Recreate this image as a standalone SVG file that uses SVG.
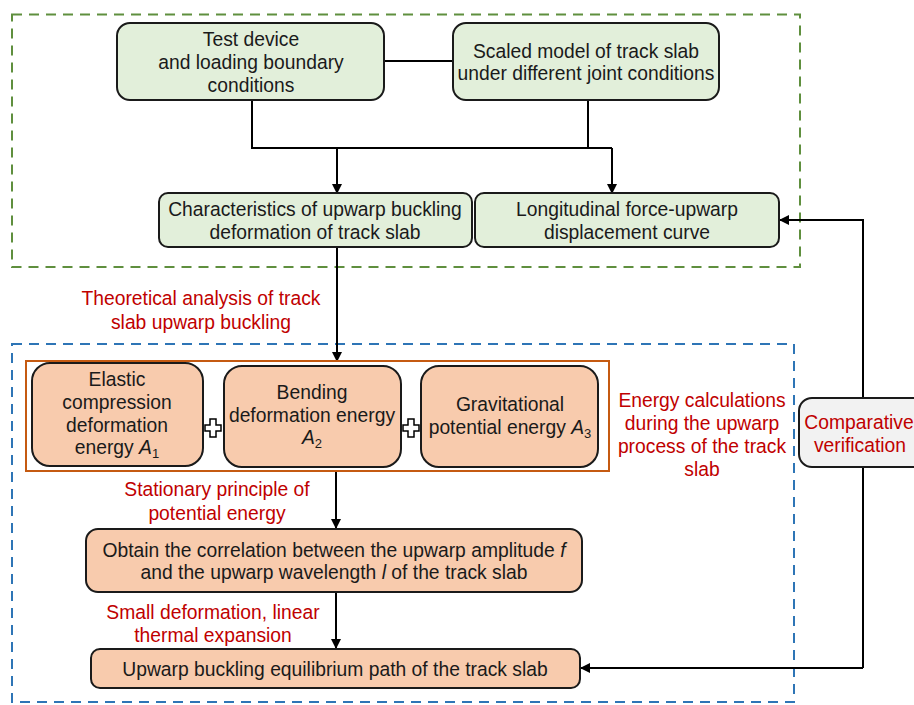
<svg xmlns="http://www.w3.org/2000/svg" width="914" height="705" viewBox="0 0 914 705">
<style>
text{font-family:"Liberation Sans",Arial,sans-serif;font-size:19.3px;fill:#1a1a1a;text-anchor:middle}
.red{fill:#c00000}
.g{fill:#e2efda;stroke:#1a1a1a;stroke-width:2}
.o{fill:#f8cbad;stroke:#1a1a1a;stroke-width:2}
.c{fill:none;stroke:#000;stroke-width:2}
.i{font-style:italic}
.s{font-size:13px}
.plus{fill:#fff;stroke:#000;stroke-width:1.5}
</style>
<defs>
<marker id="ah" markerWidth="10" markerHeight="10" refX="9" refY="5" orient="auto" markerUnits="userSpaceOnUse">
<path d="M0,0 L10,5 L0,10 z" fill="#000"/>
</marker>
</defs>
<rect x="12" y="14.5" width="788" height="252.5" fill="none" stroke="#5f8f3e" stroke-width="2" stroke-dasharray="10,7"/>
<rect x="12" y="344" width="782" height="358" fill="none" stroke="#2e75b6" stroke-width="2" stroke-dasharray="10,7"/>
<g id="connectors">
<line class="c" x1="384" y1="61" x2="453" y2="61"/>
<polyline class="c" points="252,100 252,148 612,148"/>
<line class="c" x1="588" y1="100" x2="588" y2="148"/>
<line class="c" x1="337" y1="148" x2="337" y2="193" marker-end="url(#ah)"/>
<line class="c" x1="612" y1="148" x2="612" y2="193" marker-end="url(#ah)"/>
<line class="c" x1="337" y1="247" x2="337" y2="361" marker-end="url(#ah)"/>
<line class="c" x1="336" y1="471" x2="336" y2="528" marker-end="url(#ah)"/>
<line class="c" x1="336" y1="592" x2="336" y2="648" marker-end="url(#ah)"/>
<polyline class="c" points="863,668 863,220 780,220" marker-end="url(#ah)"/>
<line class="c" x1="863" y1="668" x2="581" y2="668" marker-end="url(#ah)"/>
</g>
<g id="n1"><rect class="g" x="117" y="23" width="267" height="77" rx="13"/>
<text x="251" y="46">Test device</text><text x="251" y="69">and loading boundary</text><text x="251" y="92">conditions</text></g>
<g id="n2"><rect class="g" x="453" y="23" width="266" height="77" rx="13"/>
<text x="586" y="58">Scaled model of track slab</text><text x="586" y="80">under different joint conditions</text></g>
<g id="n3"><rect class="g" x="159" y="193" width="313" height="54" rx="9"/>
<text x="315" y="216">Characteristics of upwarp buckling</text><text x="315" y="239">deformation of track slab</text></g>
<g id="n4"><rect class="g" x="475" y="193" width="304" height="54" rx="9"/>
<text x="627" y="216">Longitudinal force-upwarp</text><text x="627" y="239">displacement curve</text></g>
<g id="lbl1"><text class="red" x="201" y="305">Theoretical analysis of track</text><text class="red" x="201" y="329">slab upwarp buckling</text></g>
<g id="energy">
<rect x="26" y="361" width="583" height="110" fill="#fff" stroke="#c55a11" stroke-width="2"/>
<g id="a1"><rect class="o" x="32" y="363" width="171" height="103" rx="18"/>
<text x="117" y="386">Elastic</text><text x="117" y="409">compression</text><text x="117" y="432">deformation</text>
<text x="117" y="454">energy <tspan class="i">A</tspan><tspan class="s" dy="4">1</tspan></text></g>
<g id="a2"><rect class="o" x="224" y="366" width="177" height="101" rx="18"/>
<text x="312" y="399">Bending</text><text x="312" y="422">deformation energy</text>
<text x="312" y="444"><tspan class="i">A</tspan><tspan class="s" dy="4">2</tspan></text></g>
<g id="a3"><rect class="o" x="421" y="366" width="177" height="101" rx="18"/>
<text x="510" y="411">Gravitational</text>
<text x="510" y="434">potential energy <tspan class="i">A</tspan><tspan class="s" dy="4">3</tspan></text></g>
<polygon class="plus" points="210,419 216,419 216,425 221,425 221,431 216,431 216,437 210,437 210,431 205,431 205,425 210,425"/>
<polygon class="plus" points="408,419 414,419 414,425 419,425 419,431 414,431 414,437 408,437 408,431 403,431 403,425 408,425"/>
</g>
<g id="lbl2"><text class="red" x="702" y="407">Energy calculations</text><text class="red" x="702" y="430">during the upwarp</text><text class="red" x="702" y="453">process of the track</text><text class="red" x="702" y="476">slab</text></g>
<g id="cmp"><rect x="799" y="398" width="130" height="69" rx="13" fill="#f2f2f2" stroke="#1a1a1a" stroke-width="2"/>
<text class="red" x="859" y="429">Comparative</text><text class="red" x="860" y="452">verification</text></g>
<g id="lbl3"><text class="red" x="217" y="496">Stationary principle of</text><text class="red" x="217" y="520">potential energy</text></g>
<g id="n5"><rect class="o" x="86" y="529" width="496" height="63" rx="12"/>
<text x="334" y="557">Obtain the correlation between the upwarp amplitude <tspan class="i">f</tspan></text>
<text x="334" y="579">and the upwarp wavelength <tspan class="i">l</tspan> of the track slab</text></g>
<g id="lbl4"><text class="red" x="213" y="619">Small deformation, linear</text><text class="red" x="213" y="642">thermal expansion</text></g>
<g id="n6"><rect class="o" x="91" y="649" width="489" height="39" rx="9"/>
<text x="335" y="676">Upwarp buckling equilibrium path of the track slab</text></g>
</svg>
